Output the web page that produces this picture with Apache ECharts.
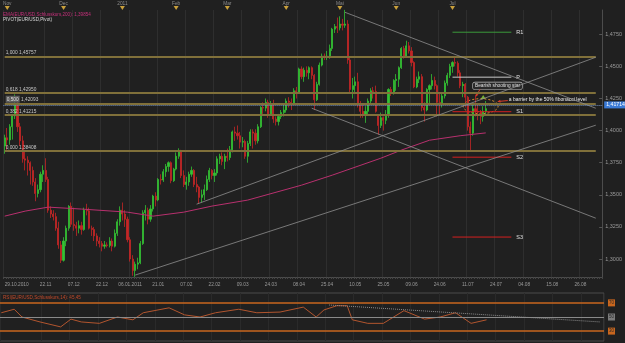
<!DOCTYPE html>
<html>
<head>
<meta charset="utf-8">
<script src="https://cdn.jsdelivr.net/npm/echarts@6/dist/echarts.min.js"></script>
<style>
  html, body { margin: 0; padding: 0; background: #202020; }
  #chart { width: 625px; height: 343px; }
</style>
</head>
<body>
<div id="chart"></div>
<script>
// daily slots, 29.10.2010 = slot 0, the rest of the axis is empty future
const slotCount = 234;
const dateTickSlots = [0, 16, 27, 38, 49, 60, 71, 82, 93, 104, 115, 126, 137, 148, 159, 170, 181, 192, 203, 214, 225];
const dateTickLabels = ['29.10.2010', '22.11', '07.12', '22.12', '06.01.2011', '21.01', '07.02', '22.02', '09.03', '24.03',
  '08.04', '25.04', '10.05', '25.05', '09.06', '24.06', '11.07', '24.07', '04.08', '15.08', '26.08'];
const monthSlots = [1, 23, 46, 67, 87, 110, 131, 153, 175];
const monthLabels = ['Nov', 'Dec', '2011', 'Feb', 'Mar', 'Apr', 'Mai', 'Jun', 'Jul'];
const priceTicks = [1.300, 1.325, 1.350, 1.375, 1.400, 1.425, 1.450, 1.475];
const oscTicks = [30, 50, 70];

// [open, close, low, high]
const candles = [
  [1.3880,1.3944,1.3820,1.3968],[1.3944,1.3927,1.3850,1.4020],[1.3927,1.4030,1.3890,1.4050],[1.4030,1.4115,1.3930,1.4130],
  [1.4115,1.4200,1.4090,1.4282],[1.4200,1.4030,1.3990,1.4225],[1.4030,1.3920,1.3880,1.4060],[1.3920,1.3780,1.3750,1.3960],
  [1.3780,1.3770,1.3690,1.3850],[1.3770,1.3750,1.3650,1.3800],[1.3750,1.3690,1.3580,1.3760],[1.3690,1.3600,1.3570,1.3720],
  [1.3600,1.3510,1.3450,1.3630],[1.3510,1.3540,1.3480,1.3580],[1.3540,1.3660,1.3520,1.3680],[1.3660,1.3690,1.3600,1.3730],
  [1.3690,1.3620,1.3600,1.3785],[1.3620,1.3380,1.3360,1.3640],[1.3380,1.3350,1.3320,1.3410],[1.3350,1.3330,1.3300,1.3380],
  [1.3330,1.3240,1.3220,1.3360],[1.3240,1.3110,1.3080,1.3290],[1.3110,1.2990,1.2969,1.3140],[1.2990,1.3140,1.2980,1.3170],
  [1.3140,1.3240,1.3100,1.3260],[1.3240,1.3410,1.3220,1.3420],[1.3410,1.3270,1.3250,1.3440],[1.3270,1.3260,1.3220,1.3400],
  [1.3260,1.3240,1.3180,1.3290],[1.3240,1.3260,1.3200,1.3300],[1.3260,1.3230,1.3190,1.3290],[1.3230,1.3380,1.3220,1.3400],
  [1.3380,1.3375,1.3340,1.3430],[1.3375,1.3240,1.3230,1.3400],[1.3240,1.3230,1.3180,1.3260],[1.3230,1.3180,1.3140,1.3250],
  [1.3180,1.3140,1.3100,1.3200],[1.3140,1.3120,1.3090,1.3170],[1.3120,1.3100,1.3060,1.3140],[1.3100,1.3110,1.3080,1.3140],
  [1.3110,1.3105,1.3090,1.3130],[1.3105,1.3140,1.3090,1.3170],[1.3140,1.3100,1.3060,1.3160],[1.3100,1.3200,1.3090,1.3230],
  [1.3200,1.3290,1.3180,1.3310],[1.3290,1.3380,1.3260,1.3410],[1.3380,1.3350,1.3300,1.3440],[1.3350,1.3310,1.3250,1.3380],
  [1.3310,1.3150,1.3130,1.3330],[1.3150,1.3000,1.2980,1.3170],[1.3000,1.2910,1.2870,1.3030],[1.2910,1.2960,1.2861,1.2980],
  [1.2960,1.2970,1.2920,1.3010],[1.2970,1.3120,1.2960,1.3140],[1.3120,1.3360,1.3110,1.3380],[1.3360,1.3380,1.3300,1.3420],
  [1.3380,1.3310,1.3270,1.3400],[1.3310,1.3390,1.3290,1.3420],[1.3390,1.3490,1.3370,1.3500],[1.3490,1.3460,1.3410,1.3520],
  [1.3460,1.3620,1.3450,1.3630],[1.3620,1.3615,1.3580,1.3660],[1.3615,1.3680,1.3600,1.3700],[1.3680,1.3720,1.3640,1.3740],
  [1.3720,1.3750,1.3680,1.3760],[1.3750,1.3610,1.3590,1.3760],[1.3610,1.3700,1.3600,1.3710],[1.3700,1.3800,1.3690,1.3830],
  [1.3800,1.3840,1.3780,1.3862],[1.3840,1.3650,1.3630,1.3850],[1.3650,1.3580,1.3560,1.3690],[1.3580,1.3600,1.3540,1.3640],
  [1.3600,1.3660,1.3570,1.3680],[1.3660,1.3690,1.3640,1.3720],[1.3690,1.3580,1.3560,1.3700],[1.3580,1.3560,1.3520,1.3640],
  [1.3560,1.3480,1.3430,1.3570],[1.3480,1.3500,1.3440,1.3540],[1.3500,1.3540,1.3460,1.3580],[1.3540,1.3620,1.3530,1.3650],
  [1.3620,1.3690,1.3600,1.3710],[1.3690,1.3650,1.3620,1.3700],[1.3650,1.3670,1.3600,1.3700],[1.3670,1.3780,1.3650,1.3800],
  [1.3780,1.3800,1.3740,1.3820],[1.3800,1.3760,1.3730,1.3830],[1.3760,1.3800,1.3700,1.3820],[1.3800,1.3790,1.3760,1.3860],
  [1.3790,1.3850,1.3770,1.3880],[1.3850,1.3990,1.3830,1.4000],[1.3990,1.3980,1.3920,1.4030],[1.3980,1.3960,1.3930,1.4040],
  [1.3960,1.3910,1.3860,1.3990],[1.3910,1.3915,1.3870,1.3950],[1.3915,1.3800,1.3780,1.3930],[1.3800,1.3900,1.3750,1.3920],
  [1.3900,1.3990,1.3880,1.4010],[1.3990,1.3980,1.3860,1.4010],[1.3980,1.3920,1.3890,1.4010],[1.3920,1.4030,1.3900,1.4050],
  [1.4030,1.4180,1.4020,1.4190],[1.4180,1.4175,1.4130,1.4220],[1.4175,1.4220,1.4150,1.4250],[1.4220,1.4130,1.4100,1.4240],
  [1.4130,1.4210,1.4120,1.4230],[1.4210,1.4090,1.4060,1.4240],[1.4090,1.4070,1.4040,1.4110],[1.4070,1.4110,1.4040,1.4130],
  [1.4110,1.4140,1.4090,1.4160],[1.4140,1.4160,1.4110,1.4200],[1.4160,1.4230,1.4140,1.4250],[1.4230,1.4220,1.4180,1.4260],
  [1.4220,1.4215,1.4160,1.4250],[1.4215,1.4310,1.4200,1.4330],[1.4310,1.4300,1.4250,1.4340],[1.4300,1.4480,1.4290,1.4490],
  [1.4480,1.4420,1.4400,1.4500],[1.4420,1.4470,1.4380,1.4490],[1.4470,1.4450,1.4420,1.4500],[1.4450,1.4490,1.4400,1.4500],
  [1.4490,1.4430,1.4400,1.4500],[1.4430,1.4240,1.4160,1.4440],[1.4240,1.4360,1.4230,1.4380],[1.4360,1.4510,1.4350,1.4530],
  [1.4510,1.4580,1.4500,1.4600],[1.4580,1.4570,1.4550,1.4600],[1.4570,1.4580,1.4550,1.4620],[1.4580,1.4640,1.4560,1.4670],
  [1.4640,1.4790,1.4620,1.4800],[1.4790,1.4810,1.4760,1.4830],[1.4810,1.4800,1.4760,1.4880],[1.4800,1.4830,1.4780,1.4890],
  [1.4830,1.4820,1.4780,1.4870],[1.4820,1.4830,1.4800,1.4940],[1.4830,1.4550,1.4520,1.4860],[1.4550,1.4320,1.4300,1.4570],
  [1.4320,1.4350,1.4250,1.4410],[1.4350,1.4380,1.4300,1.4420],[1.4380,1.4200,1.4180,1.4450],[1.4200,1.4150,1.4100,1.4230],
  [1.4150,1.4120,1.4100,1.4200],[1.4120,1.4150,1.4060,1.4190],[1.4150,1.4230,1.4120,1.4250],[1.4230,1.4310,1.4200,1.4330],
  [1.4310,1.4305,1.4250,1.4340],[1.4305,1.4150,1.4140,1.4350],[1.4120,1.4040,1.3968,1.4120],[1.4040,1.4100,1.4020,1.4140],
  [1.4100,1.4080,1.4000,1.4110],[1.4080,1.4120,1.4050,1.4160],[1.4120,1.4320,1.4100,1.4330],[1.4320,1.4300,1.4270,1.4340],
  [1.4300,1.4390,1.4280,1.4400],[1.4390,1.4400,1.4310,1.4440],[1.4400,1.4490,1.4340,1.4500],[1.4490,1.4640,1.4480,1.4650],
  [1.4640,1.4580,1.4560,1.4660],[1.4580,1.4660,1.4570,1.4700],[1.4660,1.4620,1.4600,1.4690],[1.4620,1.4530,1.4500,1.4650],
  [1.4530,1.4340,1.4330,1.4540],[1.4340,1.4400,1.4330,1.4420],[1.4400,1.4420,1.4370,1.4460],[1.4420,1.4180,1.4150,1.4440],
  [1.4180,1.4160,1.4070,1.4220],[1.4160,1.4320,1.4150,1.4330],[1.4320,1.4350,1.4200,1.4360],[1.4350,1.4390,1.4320,1.4440],
  [1.4390,1.4350,1.4320,1.4420],[1.4350,1.4220,1.4110,1.4360],[1.4220,1.4200,1.4120,1.4290],[1.4200,1.4270,1.4180,1.4290],
  [1.4270,1.4370,1.4250,1.4390],[1.4370,1.4430,1.4350,1.4450],[1.4430,1.4500,1.4410,1.4520],[1.4500,1.4530,1.4450,1.4540],
  [1.4530,1.4525,1.4500,1.4580],[1.4525,1.4450,1.4420,1.4540],[1.4450,1.4350,1.4330,1.4470],[1.4350,1.4360,1.4260,1.4380],
  [1.4360,1.4260,1.4180,1.4370],[1.4260,1.4030,1.4000,1.4270],[1.4030,1.3980,1.3837,1.4070],[1.3980,1.4170,1.3960,1.4200],
  [1.4170,1.4150,1.4110,1.4280],[1.4150,1.4145,1.4080,1.4200],[1.4145,1.4110,1.4050,1.4160],[1.4110,1.4150,1.4070,1.4190],
  [1.4150,1.4171,1.4130,1.4230]
];

const emaSlots = [0, 8, 17, 30, 48, 58, 70, 81, 95, 116, 128, 147, 155, 166, 178, 188];
const emaValues = [1.3334, 1.3373, 1.3404, 1.3389, 1.3365, 1.3334, 1.3365, 1.3412, 1.3459, 1.3575, 1.3653, 1.3785, 1.3848, 1.3925, 1.3960, 1.3982];

const rsiSlots = [0, 5, 8, 15, 23, 27, 31, 38, 45, 51, 55, 65, 71, 77, 83, 92, 99, 108, 117, 122, 125, 130, 134, 136, 142, 148, 156, 164, 170, 176, 182, 188];
const rsiValues = [56, 61, 50, 43, 36, 47, 43, 41, 50, 46, 56, 63, 53, 50, 56, 61, 56, 57, 64, 50, 60, 66, 66, 46, 41, 41, 59, 47, 50, 56, 41, 46];
const rsiTrend = [[127, 67], [232, 43]];

const fibNames = ['1,000', '0,618', '0,500', '0,382', '0,000'];
const fibLevels = [1.45757, 1.42950, 1.42093, 1.41215, 1.38408];
const pivotNames = ['R1', 'P', 'S1', 'S2', 'S3'];
const pivotValues = [1.4766, 1.4416, 1.4147, 1.3793, 1.3171];
const pivotSpan = [175, 198];
const lastPrice = 1.41714;
const trendLines = [
  [[133, 1.4921], [231, 1.4174]],
  [[51, 1.2875], [231, 1.4042]],
  [[75, 1.3427], [231, 1.4571]],
  [[120, 1.4174], [231, 1.3318]]
];
const signalPoint = [[187, 1.4262]];

const slots = Array.from({ length: slotCount }, (_, i) => String(i));
const comma = (v, d) => v.toFixed(d).replace('.', ',');
const FONT = 'Liberation Sans';
const isDateTick = (i) => dateTickSlots.includes(i);

const up = '#34c234', down = '#c42626';
const pivotColors = ['#3a9a3a', '#c8c8c8', '#d42020', '#d42020', '#d42020'];

let fibLines = fibLevels.map((v, i) => [
  {
    coord: [0, v],
    lineStyle: { color: '#80703a', width: 2, type: 'solid' },
    label: {
      show: true, position: 'insideStartTop', distance: 1,
      formatter: i === 2 ? '{h|' + fibNames[i] + '} ' + comma(v, 5) : fibNames[i] + ' ' + comma(v, 5),
      color: '#c8c8c8', fontSize: 4.8, fontFamily: FONT,
      rich: { h: { backgroundColor: '#5c5c5c', color: '#ddd', fontSize: 4.8, fontFamily: FONT, padding: [1, 1] } }
    }
  },
  { coord: [231, v] }
]);

let trendMarks = trendLines.map(t => [
  { coord: t[0], lineStyle: { color: '#8e8e8e', width: 0.8, type: 'solid' }, label: { show: false } },
  { coord: t[1] }
]);

// one short line series per pivot level
let pivotSeries = pivotValues.map((v, i) => ({
  type: 'line', name: pivotNames[i], xAxisIndex: 0, yAxisIndex: 0,
  data: [[pivotSpan[0], v], [pivotSpan[1], v]],
  showSymbol: false, silent: true,
  color: pivotColors[i],
  lineStyle: { color: pivotColors[i], width: 1 },
  endLabel: { show: true, formatter: pivotNames[i], distance: 5, color: '#e0e0e0', fontSize: 5.5, fontFamily: FONT }
}));

let option = {
  backgroundColor: '#202020',
  animation: false,
  grid: [
    { left: 0, right: 21, top: 10, bottom: 66 },
    { left: 0, right: 21, top: 293, bottom: 2, show: true, borderColor: '#4a4a4a', borderWidth: 1 }
  ],
  xAxis: [
    {
      type: 'category', gridIndex: 0, data: slots, boundaryGap: true,
      axisLine: { lineStyle: { color: '#4c4c4c' } },
      axisTick: { show: true, interval: 0, length: 2, lineStyle: { color: '#454545' } },
      axisLabel: {
        interval: (i) => isDateTick(i),
        formatter: (v) => dateTickLabels[dateTickSlots.indexOf(Number(v))],
        color: '#9a9a9a', fontSize: 4.8, fontFamily: FONT, margin: 5, alignMinLabel: 'left'
      },
      splitLine: { show: true, interval: (i) => isDateTick(i), lineStyle: { color: '#2e2e2e', width: 1 } }
    },
    {
      type: 'category', gridIndex: 0, position: 'top', data: slots, boundaryGap: true,
      axisLine: { show: false }, axisTick: { show: false },
      axisLabel: {
        interval: (i) => monthSlots.includes(i),
        formatter: (v) => monthLabels[monthSlots.indexOf(Number(v))],
        color: '#8a8a8a', fontSize: 4.8, fontFamily: FONT, margin: 4
      },
      splitLine: { show: false }
    },
    {
      type: 'category', gridIndex: 1, data: slots, boundaryGap: true,
      axisLine: { show: false }, axisTick: { show: false }, axisLabel: { show: false },
      splitLine: { show: true, interval: (i) => isDateTick(i), lineStyle: { color: '#2a2a2a' } }
    }
  ],
  yAxis: [
    {
      type: 'value', gridIndex: 0, position: 'right', min: 1.2860, max: 1.4939, scale: true,
      axisLine: { show: true, lineStyle: { color: '#4c4c4c' } },
      axisTick: { show: true, inside: true, length: 3, customValues: priceTicks, lineStyle: { color: '#555' } },
      axisLabel: { customValues: priceTicks, formatter: (v) => comma(v, 4), color: '#9a9a9a', fontSize: 5.5, fontFamily: FONT, margin: 3 },
      splitLine: { show: false }
    },
    {
      type: 'value', gridIndex: 1, position: 'right', min: 16, max: 84,
      axisLine: { show: false }, axisTick: { show: false },
      axisLabel: {
        customValues: oscTicks, margin: 4,
        formatter: (v) => '{' + (v === 50 ? 'g' : 'o') + '|' + v + '}',
        rich: {
          o: { backgroundColor: '#c8661e', color: '#2a2a2a', fontSize: 4.5, fontFamily: FONT, padding: [1, 1] },
          g: { backgroundColor: '#7a7a7a', color: '#2a2a2a', fontSize: 4.5, fontFamily: FONT, padding: [1, 1] }
        }
      },
      splitLine: { show: false }
    }
  ],
  series: [
    {
      type: 'candlestick', xAxisIndex: 0, yAxisIndex: 0, data: candles, barWidth: 1.6,
      itemStyle: { color: up, color0: down, borderColor: up, borderColor0: down, borderWidth: 0.8 },
      markLine: {
        silent: true, symbol: ['none', 'none'], animation: false,
        data: [
          ...fibLines,
          ...trendMarks,
          {
            yAxis: lastPrice,
            lineStyle: { color: '#7392c2', width: 1, type: 'dotted' },
            label: {
              show: true, position: 'end', distance: 2, formatter: comma(lastPrice, 5),
              backgroundColor: '#3a7ad6', color: '#fff', fontSize: 5.2, fontFamily: FONT, padding: [1, 2]
            }
          }
        ]
      }
    },
    ...pivotSeries,
    {
      type: 'line', name: 'EMA200', xAxisIndex: 0, yAxisIndex: 0,
      data: emaSlots.map((s, i) => [s, emaValues[i]]),
      showSymbol: false, lineStyle: { color: '#b8306e', width: 1 }
    },
    {
      type: 'scatter', xAxisIndex: 0, yAxisIndex: 0, data: signalPoint,
      symbol: 'triangle', symbolSize: [5, 4], itemStyle: { color: '#8ed43c' }
    },
    {
      type: 'line', name: 'RSI', xAxisIndex: 2, yAxisIndex: 1,
      data: rsiSlots.map((s, i) => [s, rsiValues[i]]),
      showSymbol: false, lineStyle: { color: '#b2552e', width: 1 },
      markLine: {
        silent: true, symbol: ['none', 'none'], animation: false, label: { show: false },
        data: [
          { yAxis: 70, lineStyle: { color: '#c8661e', width: 1.5, type: 'solid' } },
          { yAxis: 50, lineStyle: { color: '#8a8a8a', width: 1, type: 'solid' } },
          { yAxis: 30, lineStyle: { color: '#c8661e', width: 1.5, type: 'solid' } },
          [{ coord: rsiTrend[0], lineStyle: { color: '#8a8a8a', width: 1, type: 'dotted' } }, { coord: rsiTrend[1] }]
        ]
      }
    }
  ]
};

let chart = echarts.init(document.getElementById('chart'));
chart.setOption(option);

// annotations, anchored through the chart's own scales
const px = (slot, price) => chart.convertToPixel({ gridIndex: 0 }, [slot, price]);

function arrow(x1, y1, x2, y2, color) {
  const a = Math.atan2(y2 - y1, x2 - x1), h = 3;
  return [
    { type: 'line', shape: { x1, y1, x2, y2 }, style: { stroke: color, lineWidth: 1 } },
    {
      type: 'polygon',
      shape: { points: [[x2, y2], [x2 - h * Math.cos(a - 0.5), y2 - h * Math.sin(a - 0.5)], [x2 - h * Math.cos(a + 0.5), y2 - h * Math.sin(a + 0.5)]] },
      style: { fill: color }
    }
  ];
}

let graphics = [
  { type: 'text', x: 3, y: 12, style: { text: 'EMA(EUR/USD,Schlusskurs,200): 1,39854', fill: '#c4307a', font: '4.6px "' + FONT + '"' } },
  { type: 'text', x: 3, y: 17, style: { text: 'PIVOT(EUR/USD,Pivot)', fill: '#d8d8d8', font: '4.6px "' + FONT + '"' } },
  { type: 'text', x: 3, y: 295, style: { text: 'RSI(EUR/USD,Schlusskurs,14): 45,45', fill: '#c24a2a', font: '4.6px "' + FONT + '"' } }
];

monthSlots.forEach(s => {
  const x = px(s, 1.4)[0];
  graphics.push({ type: 'polygon', shape: { points: [[x - 2.5, 6], [x + 2.5, 6], [x, 10]] }, style: { fill: '#c9a03c' } });
});

const ring = px(185.7, 1.4190);
graphics.push({
  type: 'ellipse', shape: { cx: ring[0], cy: ring[1], rx: 17.5, ry: 7.5 },
  style: { fill: 'none', stroke: '#d08a30', lineWidth: 1, lineDash: [2, 2] }
});

const box = px(183, 1.4375);
graphics.push({
  type: 'text', x: box[0], y: box[1],
  style: {
    text: 'Bearish shooting star', fill: '#e0e0e0', font: '4.8px "' + FONT + '"',
    backgroundColor: '#2a2a2a', borderColor: '#bdbdbd', borderWidth: 0.6, borderRadius: 2, padding: [1, 2]
  }
});
graphics.push(...arrow(box[0] + 7, box[1] + 7, box[0] + 3, box[1] + 14, '#d23a2a'));

const note = px(196.5, 1.4234);
graphics.push({
  type: 'text', x: note[0], y: note[1] - 3,
  style: { text: 'a barrier by the 50% fibonacci level', fill: '#e8e8e8', font: '5px "' + FONT + '"' }
});
graphics.push(...arrow(note[0] - 1, note[1], note[0] - 11, note[1] + 1, '#d23a2a'));

chart.setOption({ graphic: graphics });

window.addEventListener('resize', () => {
  chart.resize();
});
</script>
</body>
</html>
